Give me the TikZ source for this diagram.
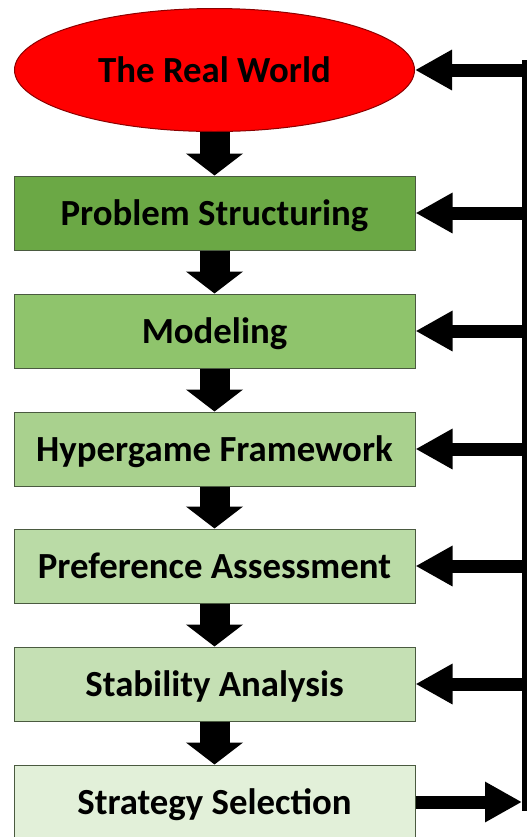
\documentclass[tikz,border=0pt]{standalone}
\usepackage{fontspec}
\setmainfont{Carlito}
\usetikzlibrary{arrows.meta,shapes.geometric}
\definecolor{cA}{HTML}{6BA845}
\definecolor{cB}{HTML}{8FC46C}
\definecolor{cC}{HTML}{A9D18E}
\definecolor{cD}{HTML}{BADBA6}
\definecolor{cE}{HTML}{C5E0B4}
\definecolor{cF}{HTML}{E2F0D9}
\definecolor{boxline}{HTML}{4A5A40}
\tikzset{
  lbl/.style={font=\fontsize{18.4pt}{22pt}\selectfont\bfseries, text=black, text height=15pt, text depth=3pt},
  stepbox/.style={lbl, rectangle, draw=boxline, line width=0.5pt, minimum width=200.5pt, minimum height=37pt, inner sep=0pt},
  world/.style={lbl, ellipse, draw=red!55!black, line width=0.5pt, fill=red, minimum width=200pt, minimum height=61.5pt, inner sep=0pt},
  darrow/.style={line width=15pt, -{Triangle[length=11pt, width=28pt]}},
  harrow/.style={line width=6.5pt, -{Triangle[length=18.5pt, width=19pt]}},
  bar/.style={line width=2.5pt}
}
\begin{document}
\begin{tikzpicture}[x=0.5pt,y=-0.5pt]
\useasboundingbox (0,0) rectangle (527,837);
\node[world] (e) at (214.5,70) {The Real World};
\node[stepbox, fill=cA] (b1) at (214.5,213) {Problem Structuring};
\node[stepbox, fill=cB] (b2) at (214.5,331) {Modeling};
\node[stepbox, fill=cC] (b3) at (214.5,449) {Hypergame Framework};
\node[stepbox, fill=cD] (b4) at (214.5,566) {Preference Assessment};
\node[stepbox, fill=cE] (b5) at (214.5,684) {Stability Analysis};
\node[stepbox, fill=cF] (b6) at (214.5,802) {Strategy Selection};
% down arrows
\draw[darrow] (e.south) -- (b1.north);
\draw[darrow] (b1) -- (b2);
\draw[darrow] (b2) -- (b3);
\draw[darrow] (b3) -- (b4);
\draw[darrow] (b4) -- (b5);
\draw[darrow] (b5) -- (b6);
% feedback bar
\coordinate (top) at (524.5,60);
\coordinate (bot) at (524.5,811);
\draw[bar] (top) -- (bot);
\coordinate (r0) at (525,70);
\coordinate (r1) at (525,213);
\coordinate (r2) at (525,331);
\coordinate (r3) at (525,449);
\coordinate (r4) at (525,566);
\coordinate (r5) at (525,684);
\coordinate (r6) at (522,802);
\draw[harrow] (r0) -- (e.east);
\draw[harrow] (r1) -- (b1.east);
\draw[harrow] (r2) -- (b2.east);
\draw[harrow] (r3) -- (b3.east);
\draw[harrow] (r4) -- (b4.east);
\draw[harrow] (r5) -- (b5.east);
\draw[harrow] (b6.east) -- (r6);
\end{tikzpicture}
\end{document}
